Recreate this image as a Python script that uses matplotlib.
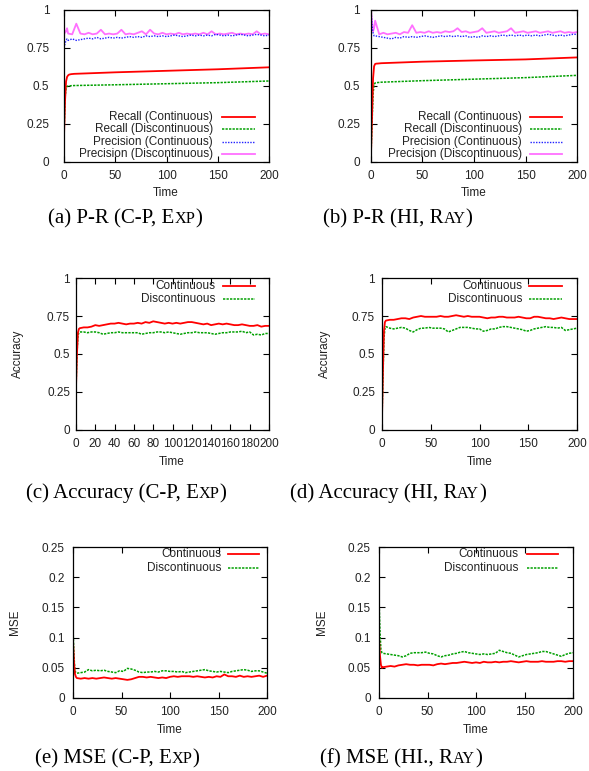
import numpy as np
import matplotlib.pyplot as plt

W, H = 589, 771
SANS = "Liberation Sans"
SERIF = "Liberation Serif"

# время для шумных рядов: 0,1,2,3 и далее каждые 4 шага
T_NOISY = [0, 1, 2, 3] + list(range(4, 201, 4))
# время для гладких рядов recall
T_SMOOTH = [0, 1, 2, 3, 4, 5, 7, 10, 50, 100, 150, 200]

# (a) P-R (C-P, Exp)
a_rec_cont = [0.17, 0.40, 0.53, 0.56, 0.57, 0.575, 0.578, 0.58, 0.59, 0.60, 0.61, 0.623]
a_rec_disc = [0.17, 0.42, 0.49, 0.497, 0.50, 0.50, 0.502, 0.503, 0.508, 0.515, 0.522, 0.533]
a_prec_cont = [0.75, 0.78, 0.80, 0.81,
               0.80, 0.81, 0.80, 0.805, 0.81, 0.815, 0.81, 0.82, 0.81, 0.815,
               0.82, 0.815, 0.82, 0.815, 0.82, 0.825, 0.82, 0.825, 0.82, 0.83,
               0.825, 0.83, 0.825, 0.83, 0.825, 0.83, 0.835, 0.83, 0.825, 0.83,
               0.835, 0.83, 0.835, 0.83, 0.835, 0.83, 0.84, 0.835, 0.83, 0.835,
               0.83, 0.835, 0.84, 0.835, 0.83, 0.835, 0.84, 0.835, 0.83, 0.835]
a_prec_disc = [0.87, 0.85, 0.86, 0.88,
               0.845, 0.84, 0.91, 0.845, 0.84, 0.85, 0.84, 0.845, 0.87, 0.84,
               0.845, 0.84, 0.845, 0.87, 0.84, 0.845, 0.84, 0.85, 0.86, 0.84,
               0.87, 0.845, 0.84, 0.85, 0.84, 0.845, 0.84, 0.85, 0.84, 0.845,
               0.84, 0.845, 0.84, 0.85, 0.84, 0.86, 0.84, 0.845, 0.84, 0.845,
               0.85, 0.84, 0.845, 0.84, 0.845, 0.84, 0.86, 0.84, 0.845, 0.84]

# (b) P-R (HI, Ray)
b_rec_cont = [0.05, 0.30, 0.55, 0.63, 0.645, 0.647, 0.648, 0.65, 0.66, 0.668, 0.675, 0.688]
b_rec_disc = [0.05, 0.25, 0.45, 0.51, 0.52, 0.522, 0.523, 0.525, 0.535, 0.545, 0.555, 0.57]
b_prec_cont = [1.0, 0.90, 0.85, 0.83,
               0.83, 0.825, 0.82, 0.815, 0.81, 0.82, 0.815, 0.825, 0.82, 0.825,
               0.82, 0.825, 0.83, 0.825, 0.82, 0.825, 0.83, 0.825, 0.83, 0.825,
               0.83, 0.825, 0.83, 0.82, 0.825, 0.82, 0.83, 0.825, 0.83, 0.825,
               0.83, 0.835, 0.83, 0.835, 0.83, 0.835, 0.83, 0.835, 0.83, 0.835,
               0.83, 0.835, 0.84, 0.835, 0.83, 0.835, 0.83, 0.835, 0.84, 0.84]
b_prec_disc = [1.0, 0.92, 0.86, 0.88,
               0.93, 0.84, 0.85, 0.84, 0.845, 0.85, 0.84, 0.855, 0.85, 0.90,
               0.85, 0.855, 0.85, 0.86, 0.85, 0.855, 0.85, 0.86, 0.855, 0.86,
               0.88, 0.855, 0.86, 0.85, 0.855, 0.86, 0.88, 0.85, 0.855, 0.86,
               0.85, 0.855, 0.86, 0.88, 0.85, 0.855, 0.86, 0.85, 0.855, 0.86,
               0.85, 0.855, 0.86, 0.85, 0.855, 0.86, 0.85, 0.855, 0.85, 0.855]

# (c) Accuracy (C-P, Exp)
c_cont = [0.28, 0.50, 0.64, 0.665,
          0.67, 0.675, 0.675, 0.68, 0.69, 0.685, 0.69, 0.695, 0.70, 0.70,
          0.705, 0.70, 0.695, 0.70, 0.70, 0.705, 0.70, 0.71, 0.705, 0.715,
          0.71, 0.705, 0.70, 0.705, 0.70, 0.705, 0.70, 0.705, 0.71, 0.71,
          0.705, 0.70, 0.695, 0.70, 0.69, 0.695, 0.70, 0.695, 0.70, 0.695,
          0.69, 0.69, 0.695, 0.69, 0.685, 0.685, 0.69, 0.68, 0.685, 0.685]
c_disc = [0.28, 0.50, 0.62, 0.64,
          0.645, 0.645, 0.64, 0.645, 0.645, 0.64, 0.63, 0.635, 0.64, 0.64,
          0.645, 0.64, 0.64, 0.64, 0.64, 0.64, 0.63, 0.635, 0.64, 0.64,
          0.645, 0.645, 0.64, 0.645, 0.64, 0.635, 0.63, 0.635, 0.64, 0.64,
          0.645, 0.64, 0.64, 0.64, 0.635, 0.63, 0.635, 0.64, 0.64, 0.645,
          0.645, 0.645, 0.65, 0.64, 0.645, 0.625, 0.63, 0.625, 0.635, 0.635]

# (d) Accuracy (HI, Ray)
d_cont = [0.08, 0.40, 0.65, 0.71,
          0.72, 0.725, 0.725, 0.73, 0.735, 0.735, 0.73, 0.74, 0.745, 0.75,
          0.745, 0.745, 0.745, 0.745, 0.75, 0.745, 0.745, 0.75, 0.755, 0.75,
          0.745, 0.75, 0.745, 0.745, 0.745, 0.74, 0.735, 0.74, 0.74, 0.745,
          0.745, 0.74, 0.74, 0.74, 0.745, 0.74, 0.735, 0.735, 0.745, 0.745,
          0.74, 0.735, 0.735, 0.73, 0.735, 0.74, 0.735, 0.73, 0.73, 0.73]
d_disc = [0.08, 0.35, 0.60, 0.67,
          0.68, 0.67, 0.665, 0.67, 0.675, 0.67, 0.655, 0.645, 0.66, 0.67,
          0.67, 0.675, 0.67, 0.67, 0.67, 0.665, 0.645, 0.655, 0.665, 0.675,
          0.675, 0.675, 0.67, 0.665, 0.665, 0.65, 0.655, 0.665, 0.665, 0.675,
          0.68, 0.68, 0.675, 0.67, 0.665, 0.66, 0.65, 0.655, 0.665, 0.67,
          0.675, 0.68, 0.675, 0.675, 0.67, 0.675, 0.655, 0.66, 0.665, 0.67]

# (e) MSE (C-P, Exp)
e_cont = [0.095, 0.06, 0.04, 0.035,
          0.033, 0.032, 0.033, 0.032, 0.033, 0.032, 0.033, 0.034, 0.033, 0.032,
          0.033, 0.032, 0.031, 0.030, 0.031, 0.033, 0.035, 0.035, 0.034, 0.035,
          0.034, 0.033, 0.034, 0.033, 0.035, 0.036, 0.035, 0.036, 0.036, 0.036,
          0.035, 0.036, 0.035, 0.034, 0.035, 0.034, 0.036, 0.035, 0.039, 0.036,
          0.036, 0.035, 0.037, 0.035, 0.036, 0.035, 0.036, 0.037, 0.035, 0.037]
e_disc = [0.115, 0.07, 0.045, 0.042,
          0.041, 0.042, 0.043, 0.047, 0.045, 0.046, 0.045, 0.046, 0.044, 0.043,
          0.042, 0.045, 0.044, 0.049, 0.048, 0.046, 0.043, 0.042, 0.043, 0.043,
          0.044, 0.043, 0.045, 0.045, 0.044, 0.044, 0.043, 0.044, 0.042, 0.043,
          0.044, 0.045, 0.046, 0.047, 0.045, 0.044, 0.043, 0.044, 0.043, 0.042,
          0.044, 0.045, 0.046, 0.047, 0.046, 0.044, 0.045, 0.045, 0.043, 0.041]

# (f) MSE (HI., Ray)
f_cont = [0.10, 0.07, 0.055, 0.05,
          0.051, 0.052, 0.053, 0.052, 0.054, 0.055, 0.056, 0.055, 0.055, 0.054,
          0.055, 0.055, 0.055, 0.054, 0.056, 0.057, 0.056, 0.057, 0.058, 0.058,
          0.059, 0.060, 0.059, 0.058, 0.059, 0.058, 0.060, 0.059, 0.059, 0.060,
          0.059, 0.060, 0.060, 0.061, 0.060, 0.059, 0.060, 0.061, 0.060, 0.060,
          0.060, 0.061, 0.060, 0.060, 0.060, 0.061, 0.061, 0.060, 0.061, 0.061]
f_disc = [0.165, 0.11, 0.08, 0.075,
          0.074, 0.073, 0.072, 0.071, 0.070, 0.068, 0.070, 0.074, 0.075, 0.075,
          0.075, 0.076, 0.074, 0.073, 0.070, 0.068, 0.070, 0.071, 0.073, 0.074,
          0.076, 0.077, 0.075, 0.074, 0.073, 0.072, 0.073, 0.072, 0.073, 0.074,
          0.079, 0.077, 0.075, 0.074, 0.071, 0.068, 0.070, 0.072, 0.073, 0.074,
          0.075, 0.077, 0.077, 0.075, 0.073, 0.071, 0.069, 0.072, 0.074, 0.075]

# подписи делений
pr_yticks = [0, 0.25, 0.5, 0.75, 1]
pr_ylabels = ["0", "0.25", "0.5", "0.75", "1"]
mse_yticks = [0, 0.05, 0.1, 0.15, 0.2, 0.25]
mse_ylabels = ["0", "0.05", "0.1", "0.15", "0.2", "0.25"]
x_ticks_50 = [0, 50, 100, 150, 200]
x_ticks_20 = list(range(0, 201, 20))

# стили линий в духе gnuplot
RED = dict(color="#ff0000", lw=1.3, ls="-")
GREEN = dict(color="#00a000", lw=1.1, ls=(0, (1.5, 0.8)))
BLUE = dict(color="#2020ff", lw=1.0, ls=(0, (1, 1)))
PINK = dict(color="#ff70ff", lw=1.3, ls="-")

FS = 8.5

fig = plt.figure(figsize=(W / 100, H / 100), dpi=100)


def make_axes(x0, x1, y0, y1):
    # координаты в пикселях исходной картинки
    return fig.add_axes([x0 / W, 1 - y1 / H, (x1 - x0) / W, (y1 - y0) / H])


def style_axes(ax, yticks, ylabels, xticks, ylim, ypad):
    ax.set_xlim(0, 200)
    ax.set_ylim(*ylim)
    ax.set_xticks(xticks)
    ax.set_xticklabels([str(t) for t in xticks])
    ax.set_yticks(yticks)
    ax.set_yticklabels(ylabels)
    ax.tick_params(direction="in", top=True, right=True, length=4, width=0.8,
                   labelsize=FS, colors="black")
    ax.tick_params(axis="x", pad=6)
    ax.tick_params(axis="y", pad=ypad)
    for lab in ax.get_xticklabels() + ax.get_yticklabels():
        lab.set_family(SANS)
        lab.set_color("#222222")
    for s in ax.spines.values():
        s.set_linewidth(0.9)


def key(ax, labels, styles, xt, xl0, xl1, ys):
    # легенда gnuplot: текст справа выровнен, образец линии после текста
    for lab, st, y in zip(labels, styles, ys):
        ax.text(xt, y, lab, transform=ax.transAxes, ha="right", va="center",
                fontsize=FS, family=SANS, color="#222222")
        ax.plot([xl0, xl1], [y, y], transform=ax.transAxes, clip_on=False, **st)


def caption(xc, y_base, parts):
    renderer = fig.canvas.get_renderer()
    items = []
    total = 0
    for s, size in parts:
        t = fig.text(0, 0, s, fontsize=size, family=SERIF, va="baseline", ha="left")
        w = t.get_window_extent(renderer).width
        items.append((t, w))
        total += w
    x = xc - total / 2
    for t, w in items:
        t.set_position((x / W, 1 - y_base / H))
        x += w


def side_text(x, y, s, rot=0):
    fig.text(x / W, 1 - y / H, s, fontsize=FS, family=SANS, ha="center",
             va="center", rotation=rot, color="#222222")


pr_names = ["Recall (Continuous)", "Recall (Discontinuous)",
            "Precision (Continuous)", "Precision (Discontinuous)"]
two_names = ["Continuous", "Discontinuous"]

# --- (a) ---
ax = make_axes(64, 269, 10, 162)
ax.plot(T_NOISY, a_prec_disc, **PINK)
ax.plot(T_NOISY, a_prec_cont, **BLUE)
ax.plot(T_SMOOTH, a_rec_disc, **GREEN)
ax.plot(T_SMOOTH, a_rec_cont, **RED)
style_axes(ax, pr_yticks, pr_ylabels, x_ticks_50, (0, 1), 10.5)
key(ax, pr_names, [RED, GREEN, BLUE, PINK], 0.727, 0.77, 0.93,
    [0.296, 0.217, 0.132, 0.053])
side_text(166, 193, "Time")

# --- (b) ---
ax = make_axes(371, 577, 10, 162)
ax.plot(T_NOISY, b_prec_disc, **PINK)
ax.plot(T_NOISY, b_prec_cont, **BLUE)
ax.plot(T_SMOOTH, b_rec_disc, **GREEN)
ax.plot(T_SMOOTH, b_rec_cont, **RED)
style_axes(ax, pr_yticks, pr_ylabels, x_ticks_50, (0, 1), 7.8)
key(ax, pr_names, [RED, GREEN, BLUE, PINK], 0.733, 0.772, 0.927,
    [0.296, 0.217, 0.132, 0.053])
side_text(474, 193, "Time")

# --- (c) ---
ax = make_axes(76, 269, 278, 430)
ax.plot(T_NOISY, c_disc, **GREEN)
ax.plot(T_NOISY, c_cont, **RED)
style_axes(ax, pr_yticks, pr_ylabels, x_ticks_20, (0, 1), 4.3)
key(ax, two_names, [RED, GREEN], 0.72, 0.76, 0.93, [0.947, 0.862])
side_text(172, 462, "Time")
side_text(18, 354, "Accuracy", rot=90)

# --- (d) ---
ax = make_axes(382, 577, 278, 430)
ax.plot(T_NOISY, d_disc, **GREEN)
ax.plot(T_NOISY, d_cont, **RED)
style_axes(ax, pr_yticks, pr_ylabels, x_ticks_50, (0, 1), 5.0)
key(ax, two_names, [RED, GREEN], 0.718, 0.754, 0.923, [0.947, 0.862])
side_text(480, 462, "Time")
side_text(325, 354, "Accuracy", rot=90)

# --- (e) ---
ax = make_axes(73, 267, 547, 698)
ax.plot(T_NOISY, e_disc, **GREEN)
ax.plot(T_NOISY, e_cont, **RED)
style_axes(ax, mse_yticks, mse_ylabels, x_ticks_50, (0, 0.25), 5.8)
key(ax, two_names, [RED, GREEN], 0.763, 0.80, 0.96, [0.954, 0.861])
side_text(170, 730, "Time")
side_text(15, 622, "MSE", rot=90)

# --- (f) ---
ax = make_axes(379, 573, 547, 698)
ax.plot(T_NOISY, f_disc, **GREEN)
ax.plot(T_NOISY, f_cont, **RED)
style_axes(ax, mse_yticks, mse_ylabels, x_ticks_50, (0, 0.25), 5.8)
key(ax, two_names, [RED, GREEN], 0.716, 0.763, 0.923, [0.954, 0.861])
side_text(476, 730, "Time")
side_text(322, 622, "MSE", rot=90)

# подписи панелей с капителью
BIG, SMALL = 15, 11.7
caption(125, 223, [("(a) P-R (C-P, E", BIG), ("XP", SMALL), (")", BIG)])
caption(398, 223, [("(b) P-R (HI, R", BIG), ("AY", SMALL), (")", BIG)])
caption(126, 498, [("(c) Accuracy (C-P, E", BIG), ("XP", SMALL), (")", BIG)])
caption(388, 498, [("(d) Accuracy (HI, R", BIG), ("AY", SMALL), (")", BIG)])
caption(117, 763, [("(e) MSE (C-P, E", BIG), ("XP", SMALL), (")", BIG)])
caption(401, 763, [("(f) MSE (HI., R", BIG), ("AY", SMALL), (")", BIG)])

fig.savefig("out.png", dpi=100)
